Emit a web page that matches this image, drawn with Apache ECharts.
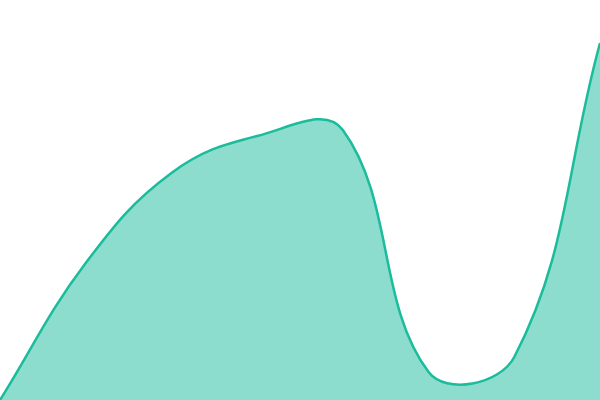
<!DOCTYPE html>
<html>
  <head>
    <meta charset="utf-8" />
    <title>ECharts</title>
    <script src="https://cdn.jsdelivr.net/npm/echarts@6/dist/echarts.min.js"></script>
    <style>
      html, body { margin: 0; padding: 0; background: #ffffff; }
    </style>
  </head>
  <body>
    <div id="main" style="width: 600px;height:400px;"></div>
    <script type="text/javascript">
      // 横轴类别（图中不显示）
      var categories = ['1', '2', '3', '4', '5', '6', '7', '8'];
      // 序列数值
      var values = [0, 137, 227, 264, 270, 28, 43, 357];

      // 曲线张力，参考图的曲线会越过数据点，所以不用内置 smooth
      var tension = 0.4;

      var myChart = echarts.init(document.getElementById('main'));

      function dist(a, b) {
        return Math.sqrt((a[0] - b[0]) * (a[0] - b[0]) + (a[1] - b[1]) * (a[1] - b[1]));
      }

      // 根据像素坐标算出每段贝塞尔曲线的控制点
      function curvePath(pts) {
        var cps = [];
        for (var i = 0; i < pts.length; i++) {
          var prev = pts[i - 1] || pts[i];
          var cur = pts[i];
          var next = pts[i + 1] || pts[i];
          var d01 = dist(prev, cur);
          var d12 = dist(cur, next);
          var s01 = d01 / (d01 + d12) || 0;
          var s12 = d12 / (d01 + d12) || 0;
          var fa = tension * s01;
          var fb = tension * s12;
          cps.push({
            prev: [cur[0] - fa * (next[0] - prev[0]), cur[1] - fa * (next[1] - prev[1])],
            next: [cur[0] + fb * (next[0] - prev[0]), cur[1] + fb * (next[1] - prev[1])]
          });
        }
        var d = 'M' + pts[0][0] + ' ' + pts[0][1];
        for (var j = 1; j < pts.length; j++) {
          var c1 = cps[j - 1].next;
          var c2 = cps[j].prev;
          d += ' C' + c1[0] + ' ' + c1[1] + ' ' + c2[0] + ' ' + c2[1] + ' ' + pts[j][0] + ' ' + pts[j][1];
        }
        return d;
      }

      function renderItem(params, api) {
        if (params.dataIndex !== 0) return null;
        var pts = values.map(function (v, i) {
          return api.coord([i, v]);
        });
        var base0 = api.coord([0, 0]);
        var base1 = api.coord([values.length - 1, 0]);
        var line = curvePath(pts);
        var area = line + ' L' + base1[0] + ' ' + base1[1] + ' L' + base0[0] + ' ' + base0[1] + ' Z';
        return {
          type: 'group',
          children: [
            {
              type: 'path',
              shape: { pathData: area },
              style: { fill: 'rgba(26, 188, 156, 0.5)', stroke: null }
            },
            {
              type: 'path',
              shape: { pathData: line },
              style: { fill: null, stroke: '#1abc9c', lineWidth: 2.5 }
            }
          ]
        };
      }

      var option = {
        animation: false,
        grid: { left: 0, right: 0, top: 0, bottom: 0 },
        xAxis: {
          type: 'category',
          show: false,
          boundaryGap: false,
          data: categories
        },
        yAxis: {
          type: 'value',
          show: false,
          min: 0,
          max: 400
        },
        series: [
          {
            type: 'custom',
            coordinateSystem: 'cartesian2d',
            renderItem: renderItem,
            data: values.map(function (v, i) { return [i, v]; })
          }
        ]
      };

      myChart.setOption(option);
    </script>
  </body>
</html>
